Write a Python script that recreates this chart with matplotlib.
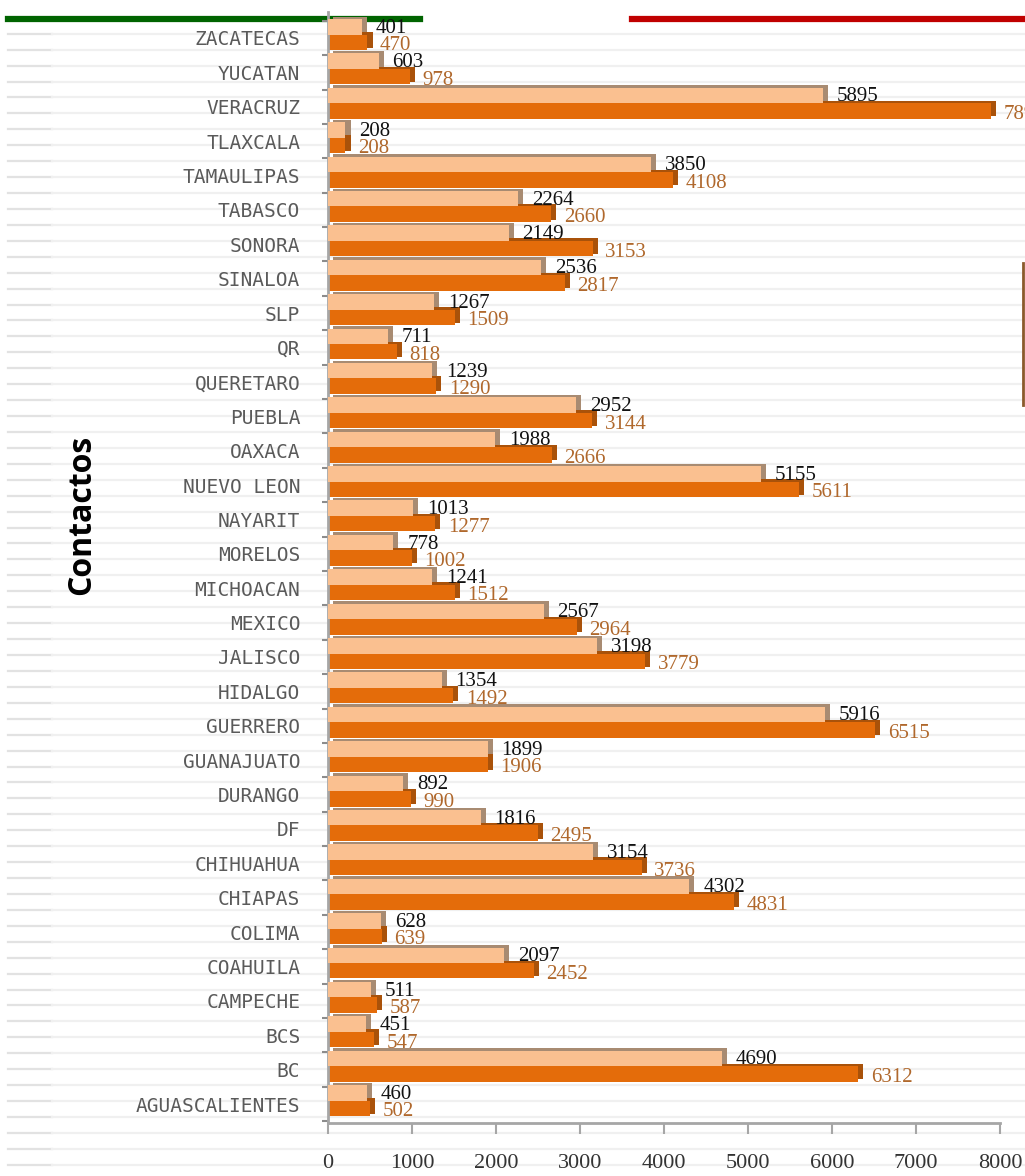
import numpy as np
import matplotlib.pyplot as plt
from matplotlib.lines import Line2D

# states listed top to bottom as in the chart
states = ['ZACATECAS', 'YUCATAN', 'VERACRUZ', 'TLAXCALA', 'TAMAULIPAS', 'TABASCO',
          'SONORA', 'SINALOA', 'SLP', 'QR', 'QUERETARO', 'PUEBLA', 'OAXACA',
          'NUEVO LEON', 'NAYARIT', 'MORELOS', 'MICHOACAN', 'MEXICO', 'JALISCO',
          'HIDALGO', 'GUERRERO', 'GUANAJUATO', 'DURANGO', 'DF', 'CHIHUAHUA',
          'CHIAPAS', 'COLIMA', 'COAHUILA', 'CAMPECHE', 'BCS', 'BC', 'AGUASCALIENTES']
serie1 = [401, 603, 5895, 208, 3850, 2264, 2149, 2536, 1267, 711, 1239, 2952, 1988,
          5155, 1013, 778, 1241, 2567, 3198, 1354, 5916, 1899, 892, 1816, 3154,
          4302, 628, 2097, 511, 451, 4690, 460]
serie2 = [470, 978, 7895, 208, 4108, 2660, 3153, 2817, 1509, 818, 1290, 3144, 2666,
          5611, 1277, 1002, 1512, 2964, 3779, 1492, 6515, 1906, 990, 2495, 3736,
          4831, 639, 2452, 587, 547, 6312, 502]
xticks = [0, 1000, 2000, 3000, 4000, 5000, 6000, 7000, 8000]

W, H = 1025, 1176
fig = plt.figure(figsize=(W/100, H/100), dpi=100)
fig.patch.set_facecolor('white')

# notebook style background lines
for yy in np.arange(17.8 + 15.93, H, 15.93):
    fig.add_artist(Line2D([8/W, 52/W], [1-yy/H, 1-yy/H], color='#E2E2E2', lw=1.6, zorder=-2))
    fig.add_artist(Line2D([52/W, 1], [1-yy/H, 1-yy/H], color='#F0F0F0', lw=1.6, zorder=-2))
fig.add_artist(Line2D([8/W, 420/W], [1-18.5/H, 1-18.5/H], color='#006400', lw=4.5, zorder=-1))
fig.add_artist(Line2D([632/W, 1], [1-18.5/H, 1-18.5/H], color='#C00000', lw=4.5, zorder=-1))
fig.add_artist(Line2D([1023/W, 1023/W], [1-263/H, 1-405/H], color='#8B5A2B', lw=2, zorder=-1))

ax = fig.add_axes([328/W, 53/H, 672/W, 1111/H])
ax.patch.set_alpha(0)

n = len(states)
y = np.arange(n)[::-1]
h = 0.45
dx, dy = 60, 0.07

# 3d depth
ax.barh(y - 0.125 + dy, serie2, left=dx, height=h, color='#A9520A', zorder=1)
ax.barh(y - 0.125, serie2, height=h, color='#E46C0A', zorder=2)
ax.barh(y + 0.325 + dy, serie1, left=dx, height=h, color='#A88B72', zorder=3)
ax.barh(y + 0.325, serie1, height=h, color='#FAC090', zorder=4)

for yi, v1, v2 in zip(y, serie1, serie2):
    ax.annotate(str(v1), (v1, yi + 0.325), xytext=(10, -1), textcoords='offset points',
                ha='left', va='center', fontsize=15, color='#111111',
                family='Liberation Serif', zorder=6)
    ax.annotate(str(v2), (v2, yi - 0.125), xytext=(9, -2.5), textcoords='offset points',
                ha='left', va='center', fontsize=15, color='#B0682C',
                family='Liberation Serif', zorder=6)

ax.set_xlim(0, 8000)
ax.set_ylim(-0.552, 31.755)
ax.set_xticks(xticks)
ax.set_xticklabels([str(t) for t in xticks], family='Liberation Serif', fontsize=16, color='#333333')
ax.set_yticks(y)
ax.set_yticklabels(states, family='DejaVu Sans Mono', fontsize=14, color='#5A5A5A')
ax.set_yticks(np.arange(-0.5, n, 1), minor=True)
ax.tick_params(axis='y', which='major', length=0, pad=20)
ax.tick_params(axis='y', which='minor', length=4, width=1.5, color='#8C8C8C', direction='out')
ax.tick_params(axis='x', which='major', length=8, width=1.5, color='#A6A6A6', pad=14)

for s in ['top', 'right']:
    ax.spines[s].set_visible(False)
for s in ['left', 'bottom']:
    ax.spines[s].set_color('#A6A6A6')
    ax.spines[s].set_linewidth(2)

fig.text(82/W, 1-515/H, 'Contactos', rotation=90, ha='center', va='center',
         fontsize=23, fontweight='bold', family='Open Sans', color='black')

fig.savefig('out.png', dpi=100)
